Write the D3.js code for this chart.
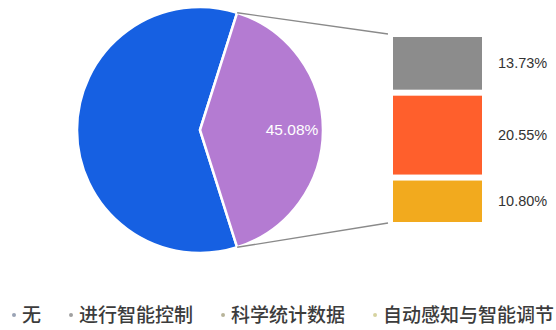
<!DOCTYPE html>
<html><head><meta charset="utf-8">
<script src="https://cdn.jsdelivr.net/npm/d3@7"></script>
<style>html,body{margin:0;padding:0;background:#fff;}svg{display:block;}</style>
</head><body><svg id="c" width="556" height="330"></svg>
<script>
// ---- data ----
const categories = ["无", "进行智能控制", "科学统计数据", "自动感知与智能调节"];
const pieNames = ["无", "其他"];
const pieValues = [66.97, 45.08];          // share of circle
const pieLabels = ["", "45.08%"];
const barNames = ["进行智能控制", "科学统计数据", "自动感知与智能调节"];
const barValues = [13.73, 20.55, 10.80];
const barLabels = ["13.73%", "20.55%", "10.80%"];
const pieColors = ["#1660E2", "#B47BD2"];
const barColors = ["#8C8C8C", "#FF5F2C", "#F2AA1E"];
const legendColors = ["#9aa3b5", "#a0a0a0", "#b8b49a", "#d6d3a0"];

const svg = d3.select("#c");
const cx = 200, cy = 130, R = 123;

// ---- pie ----
const total = d3.sum(pieValues);
const pSpan = 2 * Math.PI * pieValues[1] / total;
const start = Math.PI / 2 + pSpan / 2;
const pie = d3.pie().sort(null).startAngle(start).endAngle(start + 2 * Math.PI);
const arcs = pie(pieValues);
const arc = d3.arc().innerRadius(0).outerRadius(R);
const g = svg.append("g").attr("transform", `translate(${cx},${cy})`);
g.selectAll("path").data(arcs).join("path")
  .attr("d", arc)
  .attr("fill", (d, i) => pieColors[i])
  .attr("stroke", "#fff").attr("stroke-width", 2.5).attr("stroke-linejoin", "round");
const labelArc = d3.arc().innerRadius(92).outerRadius(92);
g.selectAll("text.pl").data(arcs).join("text")
  .attr("class", "pl")
  .attr("transform", d => `translate(${labelArc.centroid(d)})`)
  .attr("text-anchor", "middle").attr("dy", "0.35em")
  .attr("font-family", "Liberation Sans, Arial, sans-serif").attr("font-size", 15.5)
  .attr("fill", "#fff")
  .text((d, i) => pieLabels[i]);

// ---- bar of pie ----
const barX = 393, barW = 89, barTop = 37, barBottom = 222, gap = 6;
const barH = d3.scaleLinear().domain([0, d3.sum(barValues)])
  .range([0, barBottom - barTop - gap * (barValues.length - 1)]);
let acc = barTop;
const bars = barValues.map((v, i) => {
  const b = { y: acc, h: barH(v), i };
  acc += barH(v) + gap;
  return b;
});
svg.selectAll("rect.bar").data(bars).join("rect")
  .attr("class", "bar")
  .attr("x", barX).attr("y", d => d.y).attr("width", barW).attr("height", d => d.h)
  .attr("fill", d => barColors[d.i]);
svg.selectAll("text.bl").data(bars).join("text")
  .attr("class", "bl")
  .attr("x", barX + barW + 16).attr("y", d => d.y + d.h / 2).attr("dy", "0.35em")
  .attr("font-family", "Liberation Sans, Arial, sans-serif").attr("font-size", 14.5)
  .attr("fill", "#333")
  .text(d => barLabels[d.i]);

// ---- connector lines ----
const purple = arcs[1];
const pt = a => [cx + R * Math.sin(a), cy - R * Math.cos(a)];
const p1 = pt(purple.startAngle), p2 = pt(purple.endAngle);
svg.append("line").attr("x1", p1[0]).attr("y1", p1[1]).attr("x2", barX - 5).attr("y2", barTop - 3)
  .attr("stroke", "#8a8a8a").attr("stroke-width", 1.3);
svg.append("line").attr("x1", p2[0]).attr("y1", p2[1]).attr("x2", barX - 5).attr("y2", barBottom + 1)
  .attr("stroke", "#8a8a8a").attr("stroke-width", 1.3);

// ---- legend ----
const lg = svg.append("g");
let tx = 22;
categories.forEach((c, i) => {
  lg.append("circle").attr("cx", tx - 8).attr("cy", 315).attr("r", 2).attr("fill", legendColors[i]);
  const t = lg.append("text").attr("x", tx).attr("y", 322)
    .attr("font-family", "Noto Sans CJK SC, sans-serif").attr("font-size", 19)
    .attr("font-weight", 500).attr("fill", "#3c3c3c").text(c);
  tx += t.node().getComputedTextLength() + 38;
});
</script></body></html>
